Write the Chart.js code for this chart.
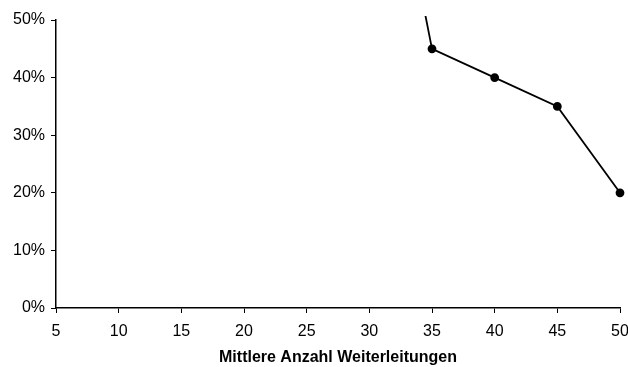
<!DOCTYPE html>
<html>
<head>
<meta charset="utf-8">
<script src="https://cdn.jsdelivr.net/npm/chart.js@4"></script>
<style>
  html, body { margin: 0; padding: 0; background: #fff; }
  #wrap { width: 628px; height: 367px; }
</style>
</head>
<body>
<div id="wrap"><canvas id="chart" width="628" height="367"></canvas></div>
<script>
// data
const weiterleitungen = [30, 35, 40, 45, 50];
const anteil = [100, 45, 40, 35, 20];   // percent
const xTicks = [5, 10, 15, 20, 25, 30, 35, 40, 45, 50];
const yTicks = [0, 10, 20, 30, 40, 50];
const xTitle = 'Mittlere Anzahl Weiterleitungen';

const points = weiterleitungen.map((x, i) => ({ x: x, y: anteil[i] }));

const tickFont = { family: '"Liberation Sans", Arial, sans-serif', size: 16 };

new Chart(document.getElementById('chart'), {
    type: 'line',
    data: {
        datasets: [{
            data: points,
            borderColor: '#000',
            backgroundColor: '#000',
            borderWidth: 1.8,
            pointRadius: 3.5,
            pointHoverRadius: 3.5,
            tension: 0,
            clip: { left: 5, top: 4, right: 10, bottom: 5 }
        }]
    },
    options: {
        responsive: false,
        animation: false,
        layout: { padding: { top: 20, right: 8, left: 0, bottom: 0 } },
        plugins: { legend: { display: false }, tooltip: { enabled: false } },
        scales: {
            x: {
                type: 'linear',
                min: 5,
                max: 50,
                afterBuildTicks: (scale) => { scale.ticks = xTicks.map(v => ({ value: v })); },
                ticks: { color: '#000', font: tickFont, padding: 9, maxRotation: 0 },
                grid: { drawOnChartArea: false, drawTicks: true, tickLength: 5, color: '#000' },
                border: { display: true, color: '#000', width: 1.5 },
                title: {
                    display: true,
                    text: xTitle,
                    color: '#000',
                    font: { family: '"Liberation Sans", Arial, sans-serif', size: 16, weight: 'bold' },
                    padding: { top: 4, bottom: 0 }
                },
                afterFit: (scale) => {
                    scale.height = 59;
                    scale.paddingRight = 0;
                }
            },
            y: {
                min: 0,
                max: 50,
                afterBuildTicks: (scale) => { scale.ticks = yTicks.map(v => ({ value: v })); },
                ticks: { color: '#000', font: tickFont, padding: 6, callback: (v) => v + '%' },
                grid: { drawOnChartArea: false, drawTicks: true, tickLength: 5, color: '#000' },
                border: { display: true, color: '#000', width: 1.5 },
                afterFit: (scale) => { scale.width = 56; }
            }
        }
    }
});
</script>
</body>
</html>
